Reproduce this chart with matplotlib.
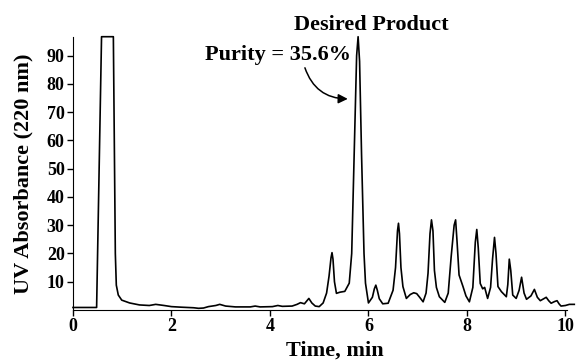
import matplotlib.pyplot as plt

# chromatogram trace: time (min) and UV absorbance
time_min = [0.0, 0.48, 0.58, 0.82, 0.86, 0.88, 0.92, 0.99, 1.15, 1.35, 1.55, 1.68,
            1.85, 2.0, 2.2, 2.45, 2.55, 2.65, 2.75, 2.9, 2.98, 3.1, 3.3, 3.6, 3.7,
            3.8, 4.05, 4.16, 4.25, 4.45, 4.55, 4.62, 4.7, 4.79, 4.85, 4.92, 5.0,
            5.08, 5.15, 5.2, 5.24, 5.26, 5.28, 5.31, 5.35, 5.42, 5.52, 5.61, 5.66,
            5.71, 5.76, 5.79, 5.82, 5.86, 5.91, 5.94, 6.0, 6.08, 6.12, 6.15, 6.18,
            6.22, 6.29, 6.4, 6.5, 6.55, 6.59, 6.61, 6.63, 6.66, 6.7, 6.77, 6.85,
            6.92, 6.98, 7.04, 7.11, 7.17, 7.21, 7.25, 7.28, 7.31, 7.34, 7.38, 7.44,
            7.55, 7.62, 7.68, 7.74, 7.77, 7.8, 7.84, 7.92, 7.98, 8.05, 8.12, 8.17,
            8.2, 8.23, 8.27, 8.32, 8.36, 8.42, 8.48, 8.52, 8.56, 8.59, 8.63, 8.7,
            8.8, 8.83, 8.86, 8.89, 8.93, 9.0, 9.06, 9.11, 9.16, 9.21, 9.3, 9.37,
            9.43, 9.49, 9.56, 9.61, 9.66, 9.71, 9.78, 9.83, 9.87, 9.91, 10.0,
            10.08, 10.18]
absorbance = [0.9, 0.9, 96.7, 96.7, 20.0, 8.8, 5.3, 3.5, 2.5, 1.8, 1.6, 2.0,
              1.6, 1.2, 1.0, 0.8, 0.6, 0.7, 1.2, 1.6, 2.0, 1.4, 1.1, 1.1, 1.4,
              1.1, 1.2, 1.6, 1.3, 1.4, 2.0, 2.6, 2.2, 4.1, 2.5, 1.4, 1.2,
              2.5, 6.0, 12.0, 18.5, 20.3, 18.0, 10.0, 5.9, 6.3, 6.6, 9.5, 20.0,
              55.0, 90.0, 96.7, 88.0, 55.0, 20.0, 9.5, 2.5, 4.5, 7.5, 8.8, 7.0,
              4.0, 2.2, 2.4, 7.0, 15.0, 28.0, 30.7, 27.0, 15.0, 8.3, 4.1, 5.5,
              6.1, 5.8, 4.5, 2.9, 6.0, 13.0, 27.0, 31.9, 28.0, 14.0, 8.0, 4.7,
              2.7, 6.0, 18.9, 30.0, 31.9, 24.0, 12.4, 8.3, 5.0, 2.9, 8.0, 24.0,
              28.5, 22.0, 9.4, 7.5, 8.0, 4.1, 8.0, 18.0, 25.7, 20.0, 8.3, 6.5,
              4.7, 9.0, 18.0, 14.0, 5.3, 4.1, 7.0, 11.6, 6.0, 3.8, 5.0, 7.3,
              4.5, 3.3, 4.0, 4.5, 3.3, 2.4, 3.0, 3.3, 2.2, 1.4, 1.6,
              2.0, 2.0]

x_ticks = [0, 2, 4, 6, 8, 10]
y_ticks = [10, 20, 30, 40, 50, 60, 70, 80, 90]

plt.rcParams['font.family'] = ['Liberation Serif', 'DejaVu Serif']
plt.rcParams['font.weight'] = 'bold'

fig = plt.figure(figsize=(5.76, 3.62), dpi=100)
ax = fig.add_axes([0.1267, 0.1436, 0.8575, 0.755])

ax.plot(time_min, absorbance, color='black', lw=1.2, clip_on=False)

ax.set_xlim(0, 10.03)
ax.set_ylim(0, 96.7)
ax.set_xticks(x_ticks)
ax.set_yticks(y_ticks)
ax.tick_params(direction='out', length=4, width=1, labelsize=13, pad=2)

ax.spines['top'].set_visible(False)
ax.spines['right'].set_visible(False)

# axis titles placed in figure pixels to sit where the original has them
fig.text(23 / 576, 1 - 174 / 362, 'UV Absorbance (220 nm)', rotation=90,
         ha='center', va='center', fontsize=16, fontweight='bold')
fig.text(335 / 576, 1 - 356 / 362, 'Time, min', ha='center', va='baseline',
         fontsize=16, fontweight='bold')

# annotations
ax.text(6.06, 99.1, 'Desired Product', ha='center', va='baseline',
        fontsize=16, fontweight='bold')
ax.text(4.17, 88.5, 'Purity = 35.6%', ha='center', va='baseline',
        fontsize=16, fontweight='bold')
ax.annotate('', xy=(5.58, 74.7), xytext=(4.71, 85.7),
            arrowprops=dict(arrowstyle='-|>', color='black', lw=1.1,
                            mutation_scale=14, shrinkA=0, shrinkB=0,
                            connectionstyle='arc3,rad=0.35'))

fig.savefig('out.png', dpi=100)
